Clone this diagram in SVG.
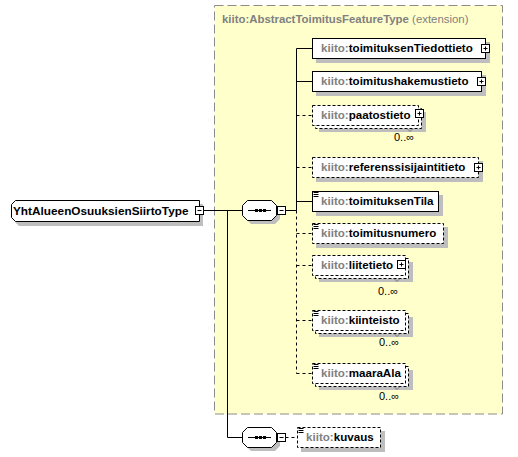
<svg xmlns="http://www.w3.org/2000/svg" width="518" height="457" viewBox="0 0 518 457">
<style>
  text{font-family:"Liberation Sans",Arial,sans-serif;font-size:11.6px}
  .t{font-weight:bold;fill:#000}
  .p{fill:#808080}
  .n{font-weight:normal}
  .occ{fill:#000;font-size:11px}
  .sh{fill:#BEBEBE;stroke:none}
  .box{fill:#fff;stroke:#000;stroke-width:1}
  .opt{stroke-dasharray:3 2}
  .btn{fill:#fff;stroke:#000;stroke-width:1}
  .sign{stroke:#000;stroke-width:1;fill:none}
  .ln{stroke:#000;stroke-width:1;fill:none}
  .dl{stroke-dasharray:3 3}
  .ic{stroke:#000;stroke-width:1}
  .tick{stroke:#666;stroke-width:0.8;fill:none}
</style>

<g id="extension">
  <rect x="214.5" y="5.5" width="288" height="408.5" fill="#FFFFCC" stroke="#8C8C8C" stroke-dasharray="9 4"/>
  <text x="222" y="23" class="t" style="fill:#808080;font-size:11.4px">kiito:AbstractToimitusFeatureType<tspan class="n"> (extension)</tspan></text>
</g>

<g id="connectors">
  <path class="ln" d="M203.5 210.5 H242.5"/>
  <path class="ln" d="M227.5 210.5 V437.5 H242.5"/>
  <path class="ln" d="M285.5 210.5 H296.5"/>
  <path class="ln" d="M296.5 48.5 V210.5"/>
  <path class="ln dl" d="M296.5 210.5 V373.5"/>
  <path class="ln" d="M296.5 48.5 H312.5 M296.5 81.5 H312.5 M296.5 201.5 H312.5"/>
  <path class="ln dl" d="M296.5 115.5 H312.5 M296.5 167.5 H312.5 M296.5 233.5 H312.5 M296.5 265.5 H312.5 M296.5 320.5 H312.5 M296.5 373.5 H312.5"/>
  <path class="ln dl" d="M285.5 437.5 H297.5"/>
</g>

<g id="YhtAlueenOsuuksienSiirtoType">
  <polygon class="sh" points="19,204 203,204 203,226 19,226 15,222 15,208"/>
  <polygon class="box" points="15.5,200.5 199.5,200.5 199.5,221.5 15.5,221.5 11.5,217.5 11.5,204.5"/>
  <text x="13" y="214.5" class="t" style="font-size:11.8px">YhtAlueenOsuuksienSiirtoType</text>
  <rect class="btn" x="195.5" y="206.5" width="8" height="8"/>
  <path class="sign" d="M197.5 210.5 H201.5"/>
</g>

<g id="sequence1">
  <polygon class="sh" points="251,204 275,204 280,209 280,219 275,224 251,224 246,219 246,209"/>
  <polygon class="box" points="247.5,200.5 271.5,200.5 276.5,205.5 276.5,215.5 271.5,220.5 247.5,220.5 242.5,215.5 242.5,205.5"/>
  <path class="ln" d="M248 210.5 H271"/>
  <rect x="255" y="209" width="3" height="3" fill="#000"/>
  <rect x="259" y="209" width="3" height="3" fill="#000"/>
  <rect x="263" y="209" width="3" height="3" fill="#000"/>
  <rect class="btn" x="277.5" y="206.5" width="8" height="8"/>
  <path class="sign" d="M279.5 210.5 H283.5"/>
</g>

<g id="sequence2">
  <polygon class="sh" points="251,431 275,431 280,436 280,446 275,451 251,451 246,446 246,436"/>
  <polygon class="box" points="247.5,427.5 271.5,427.5 276.5,432.5 276.5,442.5 271.5,447.5 247.5,447.5 242.5,442.5 242.5,432.5"/>
  <path class="ln" d="M248 437.5 H271"/>
  <rect x="255" y="436" width="3" height="3" fill="#000"/>
  <rect x="259" y="436" width="3" height="3" fill="#000"/>
  <rect x="263" y="436" width="3" height="3" fill="#000"/>
  <rect class="btn" x="277.5" y="433.5" width="8" height="8"/>
  <path class="sign" d="M279.5 437.5 H283.5"/>
</g>

<g id="toimituksenTiedottieto">
  <rect class="sh" x="316" y="42" width="174" height="21"/>
  <rect class="box" x="312.5" y="38.5" width="173" height="20"/>
  <text x="321" y="52" class="t"><tspan class="p">kiito:</tspan>toimituksenTiedottieto</text>
  <rect class="btn" x="481.5" y="44.5" width="8" height="8"/>
  <path class="sign" d="M483.5 48.5 H487.5 M485.5 46.5 V50.5"/>
</g>

<g id="toimitushakemustieto">
  <rect class="sh" x="316" y="75" width="170" height="21"/>
  <rect class="box" x="312.5" y="71.5" width="169" height="20"/>
  <text x="321" y="85" class="t"><tspan class="p">kiito:</tspan>toimitushakemustieto</text>
  <rect class="btn" x="477.5" y="77.5" width="8" height="8"/>
  <path class="sign" d="M479.5 81.5 H483.5 M481.5 79.5 V83.5"/>
</g>

<g id="paatostieto">
  <rect class="sh" x="319" y="112" width="107" height="20"/>
  <rect class="box opt" x="315.5" y="108.5" width="106" height="20"/>
  <rect class="box opt" x="312.5" y="105.5" width="106" height="20"/>
  <path class="tick" d="M407 128.5 L410 131.5 L413 128.5"/>
  <text x="321" y="119" class="t"><tspan class="p">kiito:</tspan>paatostieto</text>
  <rect class="btn" x="415.5" y="109.5" width="8" height="8"/>
  <path class="sign" d="M417.5 113.5 H421.5 M419.5 111.5 V115.5"/>
  <text x="394" y="141" class="occ">0..∞</text>
</g>

<g id="referenssisijaintitieto">
  <rect class="sh" x="316" y="161" width="167" height="21"/>
  <rect class="box opt" x="312.5" y="157.5" width="166" height="20"/>
  <text x="321" y="171" class="t"><tspan class="p">kiito:</tspan>referenssisijaintitieto</text>
  <rect class="btn" x="474.5" y="163.5" width="8" height="8"/>
  <path class="sign" d="M476.5 167.5 H480.5 M478.5 165.5 V169.5"/>
</g>

<g id="toimituksenTila">
  <rect class="sh" x="316" y="195" width="127" height="21"/>
  <rect class="box" x="312.5" y="191.5" width="126" height="20"/>
  <path class="ic" d="M313.5 192.5 H318.5 M313.5 194.5 H318.5 M313.5 196.5 H318.5"/>
  <text x="321" y="205" class="t"><tspan class="p">kiito:</tspan>toimituksenTila</text>
</g>

<g id="toimitusnumero">
  <rect class="sh" x="316" y="227" width="132" height="21"/>
  <rect class="box opt" x="312.5" y="223.5" width="131" height="20"/>
  <path class="ic" d="M313.5 224.5 H318.5 M313.5 226.5 H318.5 M313.5 228.5 H318.5"/>
  <text x="321" y="237" class="t"><tspan class="p">kiito:</tspan>toimitusnumero</text>
</g>

<g id="liitetieto">
  <rect class="sh" x="319" y="262" width="94" height="20"/>
  <rect class="box opt" x="315.5" y="258.5" width="93" height="20"/>
  <rect class="box opt" x="312.5" y="255.5" width="93" height="20"/>
  <path class="tick" d="M394 278.5 L397 281.5 L400 278.5"/>
  <text x="321" y="269" class="t"><tspan class="p">kiito:</tspan>liitetieto</text>
  <rect class="btn" x="397.5" y="260.5" width="8" height="8"/>
  <path class="sign" d="M399.5 264.5 H403.5 M401.5 262.5 V266.5"/>
  <text x="378" y="295" class="occ">0..∞</text>
</g>

<g id="kiinteisto">
  <rect class="sh" x="319" y="317" width="94" height="20"/>
  <rect class="box opt" x="315.5" y="313.5" width="93" height="20"/>
  <rect class="box opt" x="312.5" y="310.5" width="93" height="20"/>
  <path class="tick" d="M394 333.5 L397 336.5 L400 333.5"/>
  <path class="ic" d="M313.5 311.5 H318.5 M313.5 313.5 H318.5 M313.5 315.5 H318.5"/>
  <text x="321" y="324" class="t"><tspan class="p">kiito:</tspan>kiinteisto</text>
  <text x="379" y="346" class="occ">0..∞</text>
</g>

<g id="maaraAla">
  <rect class="sh" x="319" y="370" width="94" height="20"/>
  <rect class="box opt" x="315.5" y="366.5" width="93" height="20"/>
  <rect class="box opt" x="312.5" y="363.5" width="93" height="20"/>
  <path class="tick" d="M394 386.5 L397 389.5 L400 386.5"/>
  <path class="ic" d="M313.5 364.5 H318.5 M313.5 366.5 H318.5 M313.5 368.5 H318.5"/>
  <text x="321" y="377" class="t"><tspan class="p">kiito:</tspan>maaraAla</text>
  <text x="379" y="400" class="occ">0..∞</text>
</g>

<g id="kuvaus">
  <rect class="sh" x="301" y="431" width="84" height="21"/>
  <rect class="box opt" x="297.5" y="427.5" width="83" height="20"/>
  <path class="ic" d="M298.5 428.5 H303.5 M298.5 430.5 H303.5 M298.5 432.5 H303.5"/>
  <text x="306" y="441" class="t"><tspan class="p">kiito:</tspan>kuvaus</text>
</g>
</svg>
